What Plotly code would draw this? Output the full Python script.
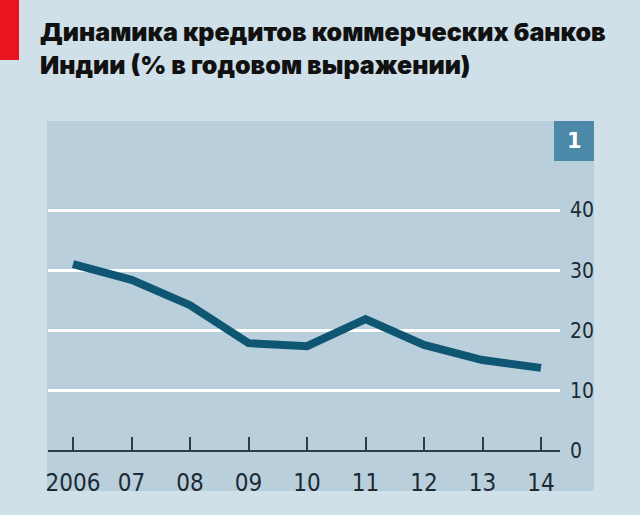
import plotly.graph_objects as go

# ---- data ----
years = [2006, 2007, 2008, 2009, 2010, 2011, 2012, 2013, 2014]
credit_growth = [31.0, 28.4, 24.2, 17.9, 17.4, 21.9, 17.6, 15.1, 13.8]
x_tick_vals = [2006, 2007, 2008, 2009, 2010, 2011, 2012, 2013, 2014]
x_tick_text = ["2006", "07", "08", "09", "10", "11", "12", "13", "14"]
y_tick_vals = [0, 10, 20, 30, 40]
y_tick_text = ["0", "10", "20", "30", "40"]
title_lines = ["Динамика кредитов коммерческих банков", "Индии (% в годовом выражении)"]
panel_number = "1"

W, H = 640, 515
ML, MR, MT, MB = 48, 80, 121, 64
PW = W - ML - MR
PH = H - MT - MB


def px(xp):
    return (xp - ML) / PW


def py(yp):
    return (H - MB - yp) / PH


BG = "#cfe0e8"
PANEL = "#b9d0dc"
LINE = "#0f5672"
BOX = "#4c89a8"

fig = go.Figure()
fig.add_trace(go.Scatter(
    x=years, y=credit_growth, mode="lines",
    line=dict(color=LINE, width=8, shape="linear"),
    hoverinfo="skip", showlegend=False,
))

shapes = [
    dict(type="rect", xref="paper", yref="paper", x0=px(47), x1=px(594), y0=py(491), y1=py(121),
         fillcolor=PANEL, line=dict(width=0), layer="below"),
    dict(type="rect", xref="paper", yref="paper", x0=px(0), x1=px(19), y0=py(60), y1=py(0),
         fillcolor="#e8141e", line=dict(width=0), layer="below"),
    dict(type="rect", xref="paper", yref="paper", x0=px(554), x1=px(594), y0=py(161), y1=py(121),
         fillcolor=BOX, line=dict(width=0), layer="above"),
]

annotations = [
    dict(text="<br>".join(title_lines), xref="paper", yref="paper",
         x=px(38), y=py(15), xanchor="left", yanchor="top", align="left", showarrow=False,
         font=dict(family="Inter, Liberation Sans, Arial, sans-serif", size=25, weight=900, color="#111111")),
    dict(text="<b>" + panel_number + "</b>", xref="paper", yref="paper",
         x=px(574), y=py(141), xanchor="center", yanchor="middle", showarrow=False,
         font=dict(family="DejaVu Sans, sans-serif", size=21, color="white")),
]

fig.update_layout(
    width=W, height=H,
    margin=dict(l=ML, r=MR, t=MT, b=MB, pad=0),
    paper_bgcolor=BG, plot_bgcolor="rgba(0,0,0,0)",
    shapes=shapes, annotations=annotations,
    showlegend=False,
)

fig.update_xaxes(
    range=[2006 - 25 / 58.5, 2006 + 487 / 58.5],
    tickvals=x_tick_vals, ticktext=x_tick_text,
    ticks="inside", ticklen=14, tickwidth=1.5, tickcolor="#2f3d47",
    showgrid=False, zeroline=False, showline=False,
    ticklabelstandoff=15,
    tickfont=dict(family="DejaVu Sans Condensed, sans-serif", size=24, color="#1e2a33"),
    fixedrange=True,
)

fig.update_yaxes(
    range=[0, 330 / 6.025],
    side="right",
    tickvals=y_tick_vals, ticktext=y_tick_text,
    ticks="", showgrid=True, gridcolor="white", gridwidth=3,
    zeroline=True, zerolinecolor="#2f3d47", zerolinewidth=2,
    showline=False, ticklabelstandoff=9,
    tickfont=dict(family="DejaVu Sans Condensed, sans-serif", size=21, color="#1e2a33"),
    fixedrange=True,
)

fig.write_html("out.html", config={"displayModeBar": False},
               post_script="document.body.style.margin='0';document.body.style.padding='0';")
